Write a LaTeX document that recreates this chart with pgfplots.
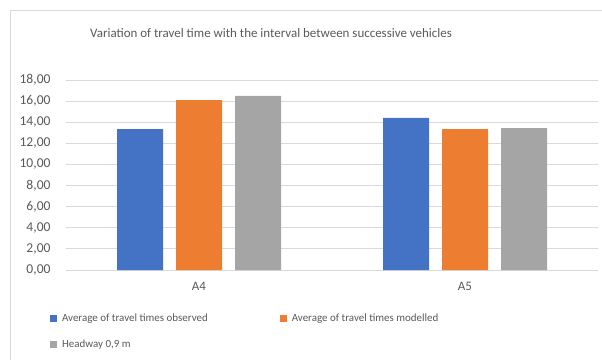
\documentclass[border=0pt]{standalone}
\usepackage{pgfplots}
\pgfplotsset{compat=1.18}
\usepackage{fontspec}
\setmainfont{Carlito}
\definecolor{cblue}{HTML}{4472C4}
\definecolor{corange}{HTML}{ED7D31}
\definecolor{cgray}{HTML}{A5A5A5}
\definecolor{ctext}{HTML}{595959}
\definecolor{cgrid}{HTML}{D9D9D9}
\begin{document}
\begin{tikzpicture}[x=1bp,y=1bp]
\useasboundingbox (0,0) rectangle (602,360);
\draw[cgrid,line width=0.8bp] (10,0) -- (10,350) -- (602,350);
\node[text=ctext,font=\fontsize{13}{16}\selectfont] at (271,327) {Variation of travel time with the interval between successive vehicles};
\begin{axis}[
  at={(66bp,90bp)}, anchor=south west,
  scale only axis, width=532bp, height=190bp,
  xmin=-0.5, xmax=1.5, ymin=0, ymax=18,
  ytick={0,2,...,18},
  xtick={0,1}, xticklabels={A4,A5},
  ybar, bar width=46bp,
  axis line style={draw=none},
  axis x line*=bottom,
  x axis line style={draw=cgrid,line width=0.8bp},
  ymajorgrids, grid style={cgrid,line width=0.8bp},
  major tick length=0pt,
  tick label style={text=ctext,font=\fontsize{13}{16}\selectfont},
  yticklabel style={font=\fontsize{13.6}{16}\selectfont, xshift=-12bp},
  /pgf/number format/assume math mode=true,
  yticklabel={\pgfmathprintnumber[fixed,fixed zerofill,precision=2,use comma]{\tick}},
  xticklabel style={yshift=-9bp},
  legend columns=2,
  legend style={at={(-0.036,-0.207)}, anchor=north west, draw=none, fill=none,
    font=\fontsize{11}{13}\selectfont, text=ctext,
    /tikz/every even column/.append style={column sep=70bp},
    row sep=13bp},
  legend cell align=left,
  legend image code/.code={\fill[#1] (0bp,-3.5bp) rectangle (7bp,3.5bp); \path (10bp,0bp);},
]
\addplot[fill=cblue,draw=none,bar shift=-59bp] coordinates {(0,13.35) (1,14.4)};
\addplot[fill=corange,draw=none,bar shift=0bp] coordinates {(0,16.1) (1,13.35)};
\addplot[fill=cgray,draw=none,bar shift=59bp] coordinates {(0,16.5) (1,13.45)};
\legend{Average of travel times observed,Average of travel times modelled,{Headway 0{,}9 m}}
\end{axis}
\end{tikzpicture}
\end{document}
